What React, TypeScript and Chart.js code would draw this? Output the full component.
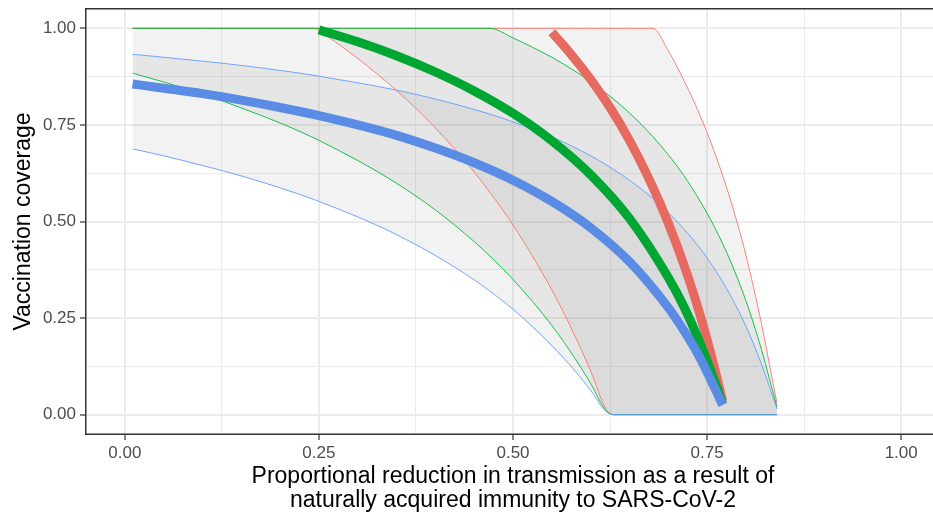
import React, { useEffect, useRef } from 'react';
import { Chart, registerables } from 'chart.js';

Chart.register(...registerables);

// Axis ticks
const majorTicks = [0, 0.25, 0.5, 0.75, 1];
const minorTicks = [0.125, 0.375, 0.625, 0.875];
const tickLabels = ['0.00', '0.25', '0.50', '0.75', '1.00'];

// Thick central curves
const blueThickX = [0.01, 0.05, 0.10, 0.15, 0.20, 0.25, 0.30, 0.35, 0.40, 0.45, 0.50, 0.55, 0.60, 0.65, 0.70, 0.72, 0.74, 0.76, 0.77];
const blueThickY = [0.856, 0.845, 0.831, 0.814, 0.795, 0.774, 0.750, 0.723, 0.690, 0.652, 0.607, 0.552, 0.484, 0.396, 0.277, 0.218, 0.150, 0.068, 0.025];

const greenThickX = [0.25, 0.30, 0.35, 0.40, 0.45, 0.50, 0.55, 0.60, 0.65, 0.70, 0.72, 0.74, 0.76, 0.77];
const greenThickY = [0.996, 0.965, 0.929, 0.887, 0.838, 0.780, 0.709, 0.621, 0.508, 0.355, 0.280, 0.190, 0.085, 0.028];

const redThickX = [0.55, 0.575, 0.60, 0.625, 0.65, 0.675, 0.70, 0.725, 0.74, 0.76, 0.77];
const redThickY = [0.990, 0.932, 0.868, 0.795, 0.710, 0.611, 0.496, 0.360, 0.265, 0.118, 0.035];

// Thin bound curves (shared x grid)
const thinX = [0.01, 0.05, 0.10, 0.15, 0.20, 0.245, 0.25, 0.30, 0.35, 0.40, 0.45, 0.47, 0.50, 0.55, 0.58, 0.60, 0.62, 0.63, 0.65, 0.68, 0.70, 0.72, 0.74, 0.76, 0.78, 0.80, 0.82, 0.83, 0.84];

const blueLo = [0.688, 0.670, 0.645, 0.618, 0.587, 0.556, 0.552, 0.512, 0.466, 0.412, 0.349, 0.320, 0.273, 0.179, 0.113, 0.063, 0.008, 0, 0, 0, 0, 0, 0, 0, 0, 0, 0, 0, 0];
const blueHi = [0.933, 0.925, 0.915, 0.904, 0.891, 0.878, 0.876, 0.859, 0.840, 0.817, 0.790, 0.778, 0.758, 0.719, 0.691, 0.670, 0.647, 0.634, 0.607, 0.560, 0.523, 0.481, 0.433, 0.376, 0.309, 0.229, 0.131, 0.074, 0.015];

const greenLo = [0.884, 0.861, 0.830, 0.794, 0.755, 0.715, 0.710, 0.658, 0.599, 0.530, 0.448, 0.411, 0.350, 0.231, 0.145, 0.081, 0.010, 0, 0, 0, 0, 0, 0, 0, 0, 0, 0, 0, 0];
const greenHi = [1, 1, 1, 1, 1, 1, 1, 1, 1, 1, 1, 1, 0.975, 0.925, 0.889, 0.862, 0.832, 0.816, 0.781, 0.720, 0.673, 0.619, 0.556, 0.484, 0.398, 0.295, 0.169, 0.095, 0.02];

const redLo = [1, 1, 1, 1, 1, 1, 0.994, 0.922, 0.839, 0.742, 0.628, 0.576, 0.491, 0.323, 0.203, 0.113, 0.014, 0, 0, 0, 0, 0, 0, 0, 0, 0, 0, 0, 0];
const redHi = [1, 1, 1, 1, 1, 1, 1, 1, 1, 1, 1, 1, 1, 1, 1, 1, 1, 1, 1, 1, 0.942, 0.866, 0.779, 0.677, 0.557, 0.413, 0.236, 0.133, 0.03];

const xTitle = ['Proportional reduction in transmission as a result of', 'naturally acquired immunity to SARS-CoV-2'];
const yTitle = 'Vaccination coverage';

const FONT = '"Liberation Sans", Arial, Helvetica, sans-serif';
const RIBBON = 'rgba(127,127,127,0.1)';

const pts = (xs: number[], ys: number[]) => xs.map((x, i) => ({ x, y: ys[i] }));
const isMajor = (v: number) => majorTicks.some((m) => Math.abs(m - v) < 1e-9);
const labelFor = (v: number) => {
  const i = majorTicks.findIndex((m) => Math.abs(m - v) < 1e-9);
  return i >= 0 ? tickLabels[i] : '';
};
const gridVals = [...majorTicks, ...minorTicks].sort((a, b) => a - b);

const panelBorder = {
  id: 'panelBorder',
  afterDraw(chart: any) {
    const { ctx } = chart;
    const xs = chart.scales.x;
    const ys = chart.scales.y;
    const l = Math.round(xs.left);
    const r = Math.round(xs.right);
    const t = Math.round(ys.top);
    const b = Math.round(ys.bottom);
    ctx.save();
    ctx.fillStyle = '#333333';
    ctx.fillRect(l - 1, t - 1, r - l + 2, 1.5);
    ctx.fillRect(l - 1, b - 0.5, r - l + 2, 1.5);
    ctx.fillRect(l - 1, t - 1, 1.5, b - t + 2);
    ctx.fillRect(r - 0.5, t - 1, 1.5, b - t + 2);
    ctx.restore();
  },
};

export default function App() {
  const ref = useRef<HTMLCanvasElement | null>(null);

  useEffect(() => {
    document.body.style.margin = '0';
    document.body.style.overflow = 'hidden';
    const canvas = ref.current;
    if (!canvas) return;

    const thick = (data: any, color: string) => ({
      data, borderColor: color, borderWidth: 9, pointRadius: 0, fill: false,
      cubicInterpolationMode: 'monotone',
    });
    const thin = (data: any, color: string, fillNext: boolean) => ({
      data, borderColor: color, borderWidth: 0.9, pointRadius: 0,
      fill: fillNext ? '+1' : false, backgroundColor: RIBBON,
      cubicInterpolationMode: 'monotone',
    });

    const scaleCommon = (isX: boolean) => ({
      type: 'linear',
      min: -0.05,
      max: 1.05,
      afterBuildTicks: (s: any) => {
        s.ticks = gridVals.map((value) => ({ value }));
      },
      ticks: {
        autoSkip: false,
        maxRotation: 0,
        padding: isX ? 3 : 4,
        color: '#4d4d4d',
        font: { family: FONT, size: 17 },
        callback: (v: any) => labelFor(Number(v)),
      },
      grid: {
        color: '#ebebeb',
        lineWidth: (ctx: any) => (ctx.tick && isMajor(ctx.tick.value) ? 2 : 1),
        tickLength: 6,
        tickColor: (ctx: any) => (ctx.tick && isMajor(ctx.tick.value) ? '#333333' : 'rgba(0,0,0,0)'),
        tickWidth: 1.2,
      },
      border: { display: false },
    });

    const chart = new Chart(canvas, {
      type: 'line',
      data: {
        datasets: [
          thick(pts(blueThickX, blueThickY), '#5A8CE6'),
          thick(pts(greenThickX, greenThickY), '#00A632'),
          thick(pts(redThickX, redThickY), '#E76A60'),
          thin(pts(thinX, blueLo), '#619CFF', true),
          thin(pts(thinX, blueHi), '#619CFF', false),
          thin(pts(thinX, greenLo), '#00BA38', true),
          thin(pts(thinX, greenHi), '#00BA38', false),
          thin(pts(thinX, redLo), '#F8766D', true),
          thin(pts(thinX, redHi), '#F8766D', false),
        ] as any,
      },
      options: {
        animation: false,
        responsive: false,
        devicePixelRatio: 1,
        layout: { padding: { top: 9, right: 1, left: 0, bottom: 0 } },
        plugins: {
          legend: { display: false },
          tooltip: { enabled: false },
          filler: { drawTime: 'beforeDatasetsDraw', propagate: false },
        },
        elements: { point: { radius: 0 } },
        scales: {
          x: {
            ...scaleCommon(true),
            afterFit: (s: any) => {
              s.height = 82;
              s.paddingLeft = 0;
              s.paddingRight = 0;
            },
            title: {
              display: true,
              text: xTitle,
              color: '#000000',
              font: { family: FONT, size: 23, lineHeight: 1.05 },
              padding: { top: 0, bottom: 3 },
            },
          },
          y: {
            ...scaleCommon(false),
            afterFit: (s: any) => {
              s.width = 86;
              s.paddingTop = 0;
              s.paddingBottom = 0;
            },
            title: {
              display: true,
              text: yTitle,
              color: '#000000',
              font: { family: FONT, size: 23, lineHeight: 1.05 },
              padding: { top: 12, bottom: 0 },
            },
          },
        },
      } as any,
      plugins: [panelBorder],
    });

    return () => chart.destroy();
  }, []);

  return (
    <div style={{ position: 'fixed', left: 0, top: 0, width: 941, height: 516 }}>
      <canvas ref={ref} width={941} height={516} style={{ width: 941, height: 516, display: 'block' }} />
    </div>
  );
}
